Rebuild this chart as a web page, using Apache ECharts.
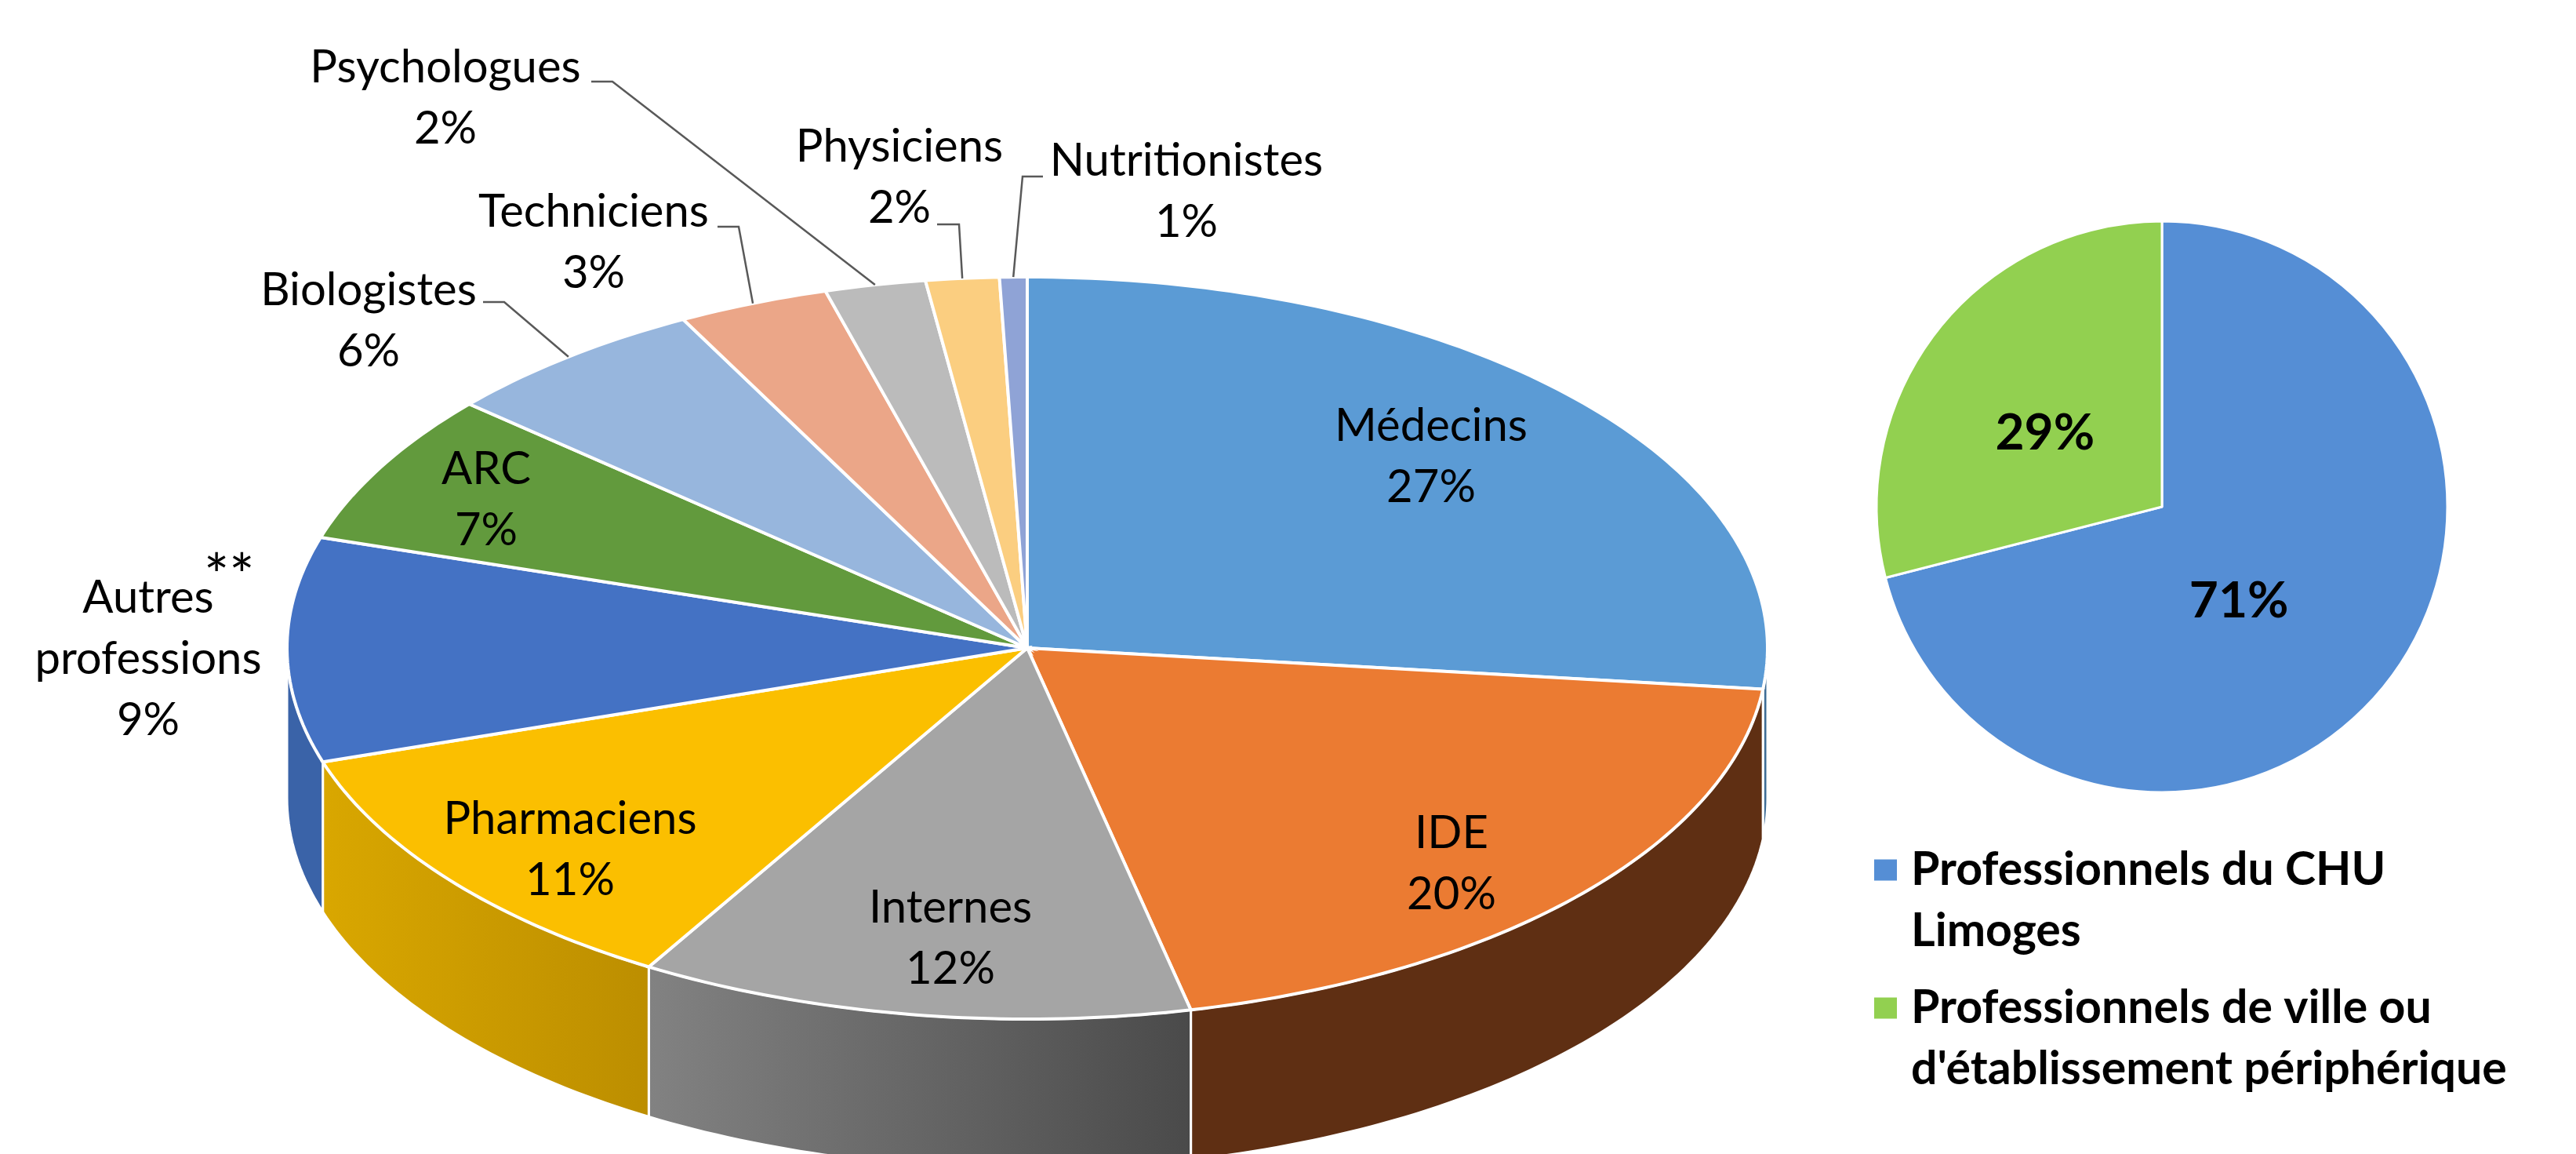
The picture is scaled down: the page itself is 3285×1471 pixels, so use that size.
<!DOCTYPE html>
<html>
<head>
<meta charset="utf-8">
<title>Répartition des professionnels</title>
<script src="https://cdn.jsdelivr.net/npm/echarts@6/dist/echarts.min.js"></script>
<style>
    html, body { margin: 0; padding: 0; background: #fff; }
    #chart { width: 3285px; height: 1471px; }
</style>
</head>
<body>
<div id="chart"></div>
<script>
    var professions = ['Médecins', 'IDE', 'Internes', 'Pharmaciens', 'Autres\nprofessions', 'ARC', 'Biologistes', 'Techniciens', 'Psychologues', 'Physiciens', 'Nutritionistes'];
    var shares = [26.8, 19.7, 12.1, 11.5, 9.8, 6.6, 5.9, 3.3, 2.2, 1.6, 0.6];
    var percentLabels = [27, 20, 12, 11, 9, 7, 6, 3, 2, 2, 1];

    // origine des professionnels
    var origins = ['Professionnels du CHU\nLimoges', "Professionnels de ville ou\nd'établissement périphérique"];
    var originValues = [71, 29];

    var topColors = ['#5B9BD5', '#EB7B32', '#A5A5A5', '#FBBF00', '#4472C4', '#629A3D', '#97B6DD', '#EBA688', '#BBBBBB', '#FBCE80', '#8FA3D6'];
    var wallColors = [
        ['#3F6D96', '#3F6D96'], ['#5F2F13', '#5F2F13'], ['#828282', '#4A4A4A'], ['#D9A700', '#BC8E00'], ['#3A63A8', '#3A63A8'],
        ['#4A7530', '#4A7530'], ['#7090B0', '#7090B0'], ['#B07A60', '#B07A60'], ['#8C8C8C', '#8C8C8C'], ['#BC9A60', '#BC9A60'], ['#6B7AA0', '#6B7AA0']
    ];
    var originColors = ['#558ED5', '#92D050'];

    var pie3d = { cx: 1310, cy: 826, rx: 944, ry: 473, depth: 191 };
    var fontName = 'Lato, "Open Sans", sans-serif';
    var labelSize = 58;
    var labelLine = 78;

    // centre de chaque étiquette, et coude du trait de rappel si elle est dehors
    var labelCenters = [[1825, 582], [1851, 1101], [1212, 1196], [727, 1083], [189, 840], [620, 637], [470, 409], [757, 309], [568, 125], [1147, 226], [1513, 244]];
    var leaderElbows = {
        6: [[616, 385], [643, 385]],
        7: [[915, 289], [942, 289]],
        8: [[754, 104], [781, 104]],
        9: [[1195, 286], [1223, 286]],
        10: [[1330, 225], [1304, 225]]
    };

    var total = shares.reduce(function (a, b) { return a + b; }, 0);

    function startOf(i) {
        var sum = 0;
        for (var k = 0; k < i; k++) sum += shares[k];
        return sum / total * 360;
    }

    // angle en degrés depuis midi, sens horaire
    function rimPoint(deg, drop) {
        var rad = deg * Math.PI / 180;
        return [pie3d.cx + pie3d.rx * Math.sin(rad), pie3d.cy - pie3d.ry * Math.cos(rad) + (drop || 0)];
    }

    function arcPoints(from, to, drop) {
        var pts = [];
        var n = Math.max(2, Math.ceil(to - from));
        for (var k = 0; k <= n; k++) pts.push(rimPoint(from + (to - from) * k / n, drop));
        return pts;
    }

    function renderWall(params) {
        var i = params.dataIndex;
        var from = Math.max(startOf(i), 90);
        var to = Math.min(startOf(i + 1), 270);
        if (to <= from) return null;
        var points = arcPoints(from, to, 0).concat(arcPoints(from, to, pie3d.depth).reverse());
        return {
            type: 'polygon',
            shape: { points: points },
            style: {
                fill: new echarts.graphic.LinearGradient(0, 0, 1, 0, [
                    { offset: 0, color: wallColors[i][0] },
                    { offset: 1, color: wallColors[i][1] }
                ]),
                stroke: '#fff',
                lineWidth: 3
            }
        };
    }

    function renderTop(params) {
        var i = params.dataIndex;
        var from = startOf(i);
        var to = startOf(i + 1);
        var points = [[pie3d.cx, pie3d.cy]].concat(arcPoints(from, to, 0));
        var children = [{
            type: 'polygon',
            shape: { points: points },
            style: { fill: topColors[i], stroke: '#fff', lineWidth: 4 }
        }];
        if (leaderElbows[i]) {
            children.push({
                type: 'polyline',
                shape: { points: leaderElbows[i].concat([rimPoint((from + to) / 2, 0)]) },
                style: { fill: 'none', stroke: '#595959', lineWidth: 2.5 }
            });
        }
        children.push({
            type: 'text',
            style: {
                text: professions[i] + '\n' + percentLabels[i] + '%',
                x: labelCenters[i][0],
                y: labelCenters[i][1],
                align: 'center',
                verticalAlign: 'middle',
                fontFamily: fontName,
                fontSize: labelSize,
                lineHeight: labelLine,
                fill: '#000'
            }
        });
        return { type: 'group', children: children };
    }

    // la ligne vide en tête garde le carré en face de la première ligne du texte
    function legendAt(name, top) {
        return {
            data: [name],
            left: 2383,
            top: top,
            orient: 'vertical',
            icon: 'rect',
            itemWidth: 31,
            itemHeight: 29,
            selectedMode: false,
            formatter: function (n) { return ' \n' + n; },
            textStyle: {
                fontFamily: fontName,
                fontWeight: 'bold',
                fontSize: 59,
                lineHeight: 78,
                color: '#000',
                padding: [0, 0, 0, 12]
            }
        };
    }

    var myChart = echarts.init(document.getElementById('chart'));

    var option = {
        animation: false,
        backgroundColor: '#fff',
        legend: [legendAt(origins[0], 987), legendAt(origins[1], 1163)],
        graphic: [{
            type: 'text',
            left: 260,
            top: 698,
            style: { text: '**', fontFamily: fontName, fontSize: 76, fill: '#000' }
        }],
        series: [
            {
                type: 'custom',
                coordinateSystem: 'none',
                silent: true,
                z: 1,
                data: shares,
                renderItem: renderWall
            },
            {
                type: 'custom',
                coordinateSystem: 'none',
                silent: true,
                z: 2,
                data: shares,
                renderItem: renderTop
            },
            {
                type: 'pie',
                center: [2757, 646],
                radius: [0, 364],
                startAngle: 90,
                silent: true,
                itemStyle: { borderColor: '#fff', borderWidth: 3 },
                labelLine: { show: false },
                label: {
                    show: true,
                    position: 'inside',
                    formatter: '{c}%',
                    fontFamily: fontName,
                    fontWeight: 'bold',
                    fontSize: 64,
                    color: '#000'
                },
                data: [
                    { name: origins[0], value: originValues[0], itemStyle: { color: originColors[0] }, label: { offset: [-48, 7] } },
                    { name: origins[1], value: originValues[1], itemStyle: { color: originColors[1] }, label: { offset: [-3, 20] } }
                ]
            }
        ]
    };
    myChart.setOption(option);
</script>
</body>
</html>
